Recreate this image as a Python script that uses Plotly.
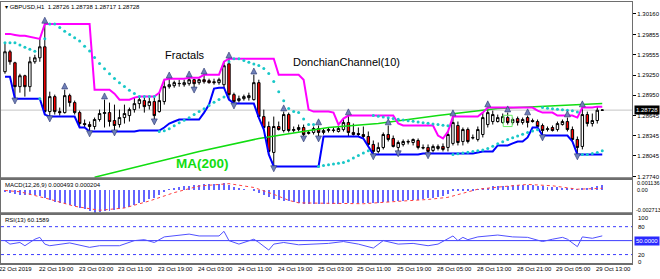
import plotly.graph_objects as go
import pandas as pd

# ---------------- data ----------------
bars = list(range(121))
open_ = [1.29300, 1.29597, 1.29433, 1.29077, 1.29240, 1.29077, 1.29448, 1.29507, 1.29671, 1.28706,
         1.28929, 1.28706, 1.28691, 1.28944, 1.28840, 1.28691, 1.28528, 1.28513, 1.28484, 1.28588,
         1.28677, 1.28691, 1.28573, 1.28513, 1.28617, 1.28647, 1.28736, 1.28825, 1.28870, 1.28795,
         1.28855, 1.28706, 1.28855, 1.29077, 1.29092, 1.29122, 1.29107, 1.29122, 1.29181, 1.29137,
         1.29181, 1.29166, 1.29151, 1.29137, 1.29107, 1.29418, 1.28959, 1.28870, 1.28899, 1.28914,
         1.28884, 1.29137, 1.28632, 1.28484, 1.28098, 1.28484, 1.28424, 1.28662, 1.28424, 1.28439,
         1.28469, 1.28380, 1.28395, 1.28454, 1.28395, 1.28424, 1.28424, 1.28410, 1.28439, 1.28543,
         1.28395, 1.28380, 1.28365, 1.28335, 1.28217, 1.28113, 1.28172, 1.28365, 1.28306, 1.28172,
         1.28217, 1.28261, 1.28246, 1.28276, 1.28172, 1.28172, 1.28128, 1.28157, 1.28187, 1.28172,
         1.28232, 1.28499, 1.28261, 1.28439, 1.28321, 1.28291, 1.28365, 1.28513, 1.28558, 1.28558,
         1.28543, 1.28617, 1.28543, 1.28602, 1.28543, 1.28617, 1.28573, 1.28558, 1.28499, 1.28439,
         1.28469, 1.28439, 1.28513, 1.28558, 1.28439, 1.28291, 1.28187, 1.28662, 1.28528, 1.28573,
         1.28726]
high = [1.29730, 1.29626, 1.29448, 1.29270, 1.29255, 1.29522, 1.29552, 1.29789, 1.30012, 1.29003,
        1.28959, 1.28766, 1.29033, 1.28973, 1.28870, 1.28721, 1.28588, 1.28558, 1.28617, 1.28736,
        1.28884, 1.28840, 1.28810, 1.28736, 1.28810, 1.28766, 1.28914, 1.28929, 1.28929, 1.28914,
        1.28929, 1.28988, 1.29181, 1.29196, 1.29166, 1.29181, 1.29181, 1.29211, 1.29196, 1.29196,
        1.29255, 1.29196, 1.29196, 1.29211, 1.29448, 1.29493, 1.28988, 1.28944, 1.28959, 1.28988,
        1.29255, 1.29181, 1.28736, 1.28558, 1.28632, 1.28558, 1.28706, 1.28691, 1.28484, 1.28513,
        1.28513, 1.28424, 1.28484, 1.28499, 1.28454, 1.28469, 1.28469, 1.28484, 1.28602, 1.28647,
        1.28528, 1.28469, 1.28484, 1.28410, 1.28276, 1.28246, 1.28395, 1.28499, 1.28350, 1.28276,
        1.28291, 1.28291, 1.28306, 1.28306, 1.28217, 1.28217, 1.28217, 1.28217, 1.28232, 1.28410,
        1.28632, 1.28558, 1.28469, 1.28469, 1.28365, 1.28484, 1.28691, 1.28766, 1.28721, 1.28662,
        1.28677, 1.28691, 1.28617, 1.28632, 1.28617, 1.28647, 1.28602, 1.28588, 1.28528, 1.28484,
        1.28499, 1.28558, 1.28588, 1.28617, 1.28484, 1.28335, 1.28766, 1.28706, 1.28677, 1.28780,
        1.28738]
low = [1.29270, 1.29404, 1.28899, 1.28988, 1.28929, 1.29003, 1.29418, 1.29448, 1.28662, 1.28632,
       1.28662, 1.28647, 1.28677, 1.28780, 1.28662, 1.28469, 1.28469, 1.28410, 1.28439, 1.28558,
       1.28469, 1.28484, 1.28424, 1.28469, 1.28528, 1.28558, 1.28691, 1.28751, 1.28691, 1.28736,
       1.28588, 1.28691, 1.28810, 1.29048, 1.29062, 1.29077, 1.29077, 1.29092, 1.29062, 1.29107,
       1.29122, 1.29122, 1.29107, 1.29107, 1.29062, 1.28884, 1.28825, 1.28840, 1.28870, 1.28870,
       1.28870, 1.28617, 1.28439, 1.28068, 1.27890, 1.28424, 1.28395, 1.28395, 1.28395, 1.28410,
       1.28335, 1.28365, 1.28365, 1.28335, 1.28365, 1.28395, 1.28395, 1.28395, 1.28410, 1.28335,
       1.28350, 1.28335, 1.28306, 1.28187, 1.28068, 1.28083, 1.28143, 1.28261, 1.28172, 1.28113,
       1.28187, 1.28217, 1.28202, 1.28143, 1.28143, 1.28083, 1.28098, 1.28128, 1.28113, 1.28113,
       1.28202, 1.28202, 1.28202, 1.28232, 1.28291, 1.28261, 1.28321, 1.28469, 1.28513, 1.28543,
       1.28528, 1.28513, 1.28513, 1.28499, 1.28513, 1.28469, 1.28543, 1.28469, 1.28350, 1.28410,
       1.28410, 1.28410, 1.28499, 1.28410, 1.28261, 1.28068, 1.28143, 1.28484, 1.28484, 1.28528,
       1.28717]
close = [1.29597, 1.29448, 1.29077, 1.29240, 1.29077, 1.29448, 1.29507, 1.29671, 1.28706, 1.28929,
         1.28706, 1.28691, 1.28944, 1.28840, 1.28691, 1.28528, 1.28513, 1.28484, 1.28588, 1.28677,
         1.28691, 1.28558, 1.28499, 1.28617, 1.28677, 1.28736, 1.28825, 1.28884, 1.28780, 1.28855,
         1.28647, 1.28870, 1.29077, 1.29107, 1.29137, 1.29125, 1.29137, 1.29181, 1.29122, 1.29181,
         1.29151, 1.29137, 1.29137, 1.29181, 1.29389, 1.28959, 1.28855, 1.28899, 1.28929, 1.28944,
         1.29137, 1.28632, 1.28469, 1.28113, 1.28484, 1.28439, 1.28662, 1.28424, 1.28439, 1.28469,
         1.28365, 1.28395, 1.28454, 1.28395, 1.28424, 1.28439, 1.28430, 1.28454, 1.28543, 1.28395,
         1.28365, 1.28365, 1.28335, 1.28217, 1.28113, 1.28172, 1.28365, 1.28291, 1.28187, 1.28246,
         1.28261, 1.28255, 1.28291, 1.28172, 1.28165, 1.28113, 1.28187, 1.28187, 1.28143, 1.28365,
         1.28543, 1.28246, 1.28439, 1.28261, 1.28315, 1.28439, 1.28617, 1.28691, 1.28662, 1.28617,
         1.28632, 1.28543, 1.28588, 1.28543, 1.28588, 1.28543, 1.28558, 1.28484, 1.28424, 1.28450,
         1.28424, 1.28528, 1.28558, 1.28439, 1.28291, 1.28172, 1.28662, 1.28528, 1.28573, 1.28726,
         1.28728]

# Donchian values read at the very left edge (history before the window)
upper_lead = [1.29863, 1.29863, 1.29848, 1.29834, 1.29834, 1.29819, 1.29804]
lower_lead = [1.29226, 1.29226]

# MA(200)
ma_bar = [18, 29, 39, 51, 65, 75, 87, 99, 111, 120]
ma_val = [1.27727, 1.27934, 1.28113, 1.28305, 1.28469, 1.28528, 1.28647, 1.28751, 1.28795, 1.28825]

# MACD(12,26,9): histogram (main) and signal
macd_main = [-0.00030, -0.00040, -0.00050, -0.00058, -0.00060, -0.00062, -0.00066, -0.00072, -0.00100, -0.00125,
             -0.00145, -0.00160, -0.00168, -0.00180, -0.00192, -0.00210, -0.00228, -0.00248, -0.00271, -0.00262,
             -0.00255, -0.00248, -0.00240, -0.00230, -0.00218, -0.00200, -0.00180, -0.00160, -0.00140, -0.00112,
             -0.00092, -0.00065, -0.00025, 0.00008, 0.00020, 0.00032, 0.00040, 0.00048, 0.00055, 0.00060,
             0.00064, 0.00068, 0.00070, 0.00068, 0.00075, 0.00055, 0.00035, 0.00018, 0.00008, 0.00000,
             -0.00018, -0.00040, -0.00062, -0.00090, -0.00108, -0.00120, -0.00128, -0.00138, -0.00148, -0.00156,
             -0.00162, -0.00168, -0.00170, -0.00172, -0.00172, -0.00170, -0.00168, -0.00165, -0.00160, -0.00160,
             -0.00158, -0.00155, -0.00155, -0.00158, -0.00160, -0.00155, -0.00145, -0.00140, -0.00135, -0.00132,
             -0.00128, -0.00125, -0.00120, -0.00115, -0.00108, -0.00100, -0.00092, -0.00082, -0.00072, -0.00045,
             -0.00020, -0.00015, -0.00010, -0.00010, -0.00008, 0.00002, 0.00012, 0.00022, 0.00038, 0.00042,
             0.00045, 0.00048, 0.00050, 0.00054, 0.00055, 0.00052, 0.00050, 0.00046, 0.00040, 0.00036,
             0.00030, 0.00026, 0.00022, 0.00020, 0.00012, 0.00005, 0.00018, 0.00025, 0.00032, 0.00042,
             0.000493]
sig_bar = [0, 3, 9, 14, 19, 24, 29, 34, 39, 45, 50, 54, 57, 59, 65, 72, 79, 85, 89, 95, 100, 105, 110, 115, 120]
sig_val = [-0.00005, -0.00020, -0.00108, -0.00190, -0.00237, -0.00210, -0.00128, -0.00030, 0.00047, 0.00075,
           0.00030, -0.00050, -0.00120, -0.00150, -0.00155, -0.00160, -0.00132, -0.00110, -0.00085, 0.00010,
           0.00040, 0.00066, 0.00050, 0.00010, 0.000204]

# RSI(13)
rsi_bar = [0, 1, 3, 4, 6, 7, 8, 9, 13, 17, 19, 23, 26, 28, 30, 32, 37, 39, 43, 44, 45, 47, 50, 51, 53, 54,
           56, 59, 65, 68, 71, 74, 76, 79, 82, 85, 87, 90, 91, 92, 93, 95, 99, 102, 105, 108, 110, 112, 113,
           115, 116, 118, 120]
rsi_val = [50, 42.5, 46, 39, 53, 57, 42.5, 39, 45, 35.5, 39, 39, 50, 52, 46, 58, 64, 60, 60, 70, 50, 42.5,
           53, 46, 29.7, 42.5, 46, 41, 44, 48, 42.5, 34, 50, 42.5, 44, 39, 42.5, 60, 50, 57, 52, 58, 62, 58,
           57, 48, 53, 57, 53, 37, 58, 55, 60.16]
rsi_levels = [80, 50, 20]

price_ticks = [1.30160, 1.29855, 1.29555, 1.29250, 1.28950, 1.28645, 1.28345, 1.28045, 1.27740]
time_labels = ["22 Oct 2019", "22 Oct 19:00", "23 Oct 03:00", "23 Oct 11:00", "23 Oct 19:00",
               "24 Oct 03:00", "24 Oct 11:00", "24 Oct 19:00", "25 Oct 03:00", "25 Oct 11:00",
               "25 Oct 19:00", "28 Oct 05:00", "28 Oct 13:00", "28 Oct 21:00", "29 Oct 05:00",
               "29 Oct 13:00"]
time_label_bars = [-1, 7, 15, 23, 31, 39, 47, 55, 63, 71, 79, 87, 95, 103, 111, 119]
highlight_bar = 101

# ---------------- indicators derived from the OHLC ----------------
n = len(bars)
upper = list(pd.Series(high).rolling(10, min_periods=1).max())
lower = list(pd.Series(low).rolling(10, min_periods=1).min())
for i, v in enumerate(upper_lead):
    upper[i] = max(upper[i], v)
for i, v in enumerate(lower_lead):
    lower[i] = min(lower[i], v)


def psar(h, l, step=0.02, amax=0.2):
    out = [h[0]]
    up = False
    af = step
    ep = l[0]
    for i in range(1, len(h)):
        s = out[-1] + af * (ep - out[-1])
        if up:
            s = min(s, l[i - 1], l[max(i - 2, 0)])
            if l[i] < s:
                up, s, ep, af = False, ep, l[i], step
            elif h[i] > ep:
                ep = h[i]
                af = min(af + step, amax)
        else:
            s = max(s, h[i - 1], h[max(i - 2, 0)])
            if h[i] > s:
                up, s, ep, af = True, ep, h[i], step
            elif l[i] < ep:
                ep = l[i]
                af = min(af + step, amax)
        out.append(s)
    return out


sar = psar(high, low)
fu_x, fu_y, fd_x, fd_y = [], [], [], []
for i in range(2, n - 2):
    if high[i] > max(high[i - 2], high[i - 1], high[i + 1], high[i + 2]):
        fu_x.append(bars[i]); fu_y.append(high[i] + 0.00100)
    if low[i] < min(low[i - 2], low[i - 1], low[i + 1], low[i + 2]):
        fd_x.append(bars[i]); fd_y.append(low[i] - 0.00080)

# ---------------- layout constants ----------------
W, H = 660, 279
XR = [-0.8, 126.0]
XDOM = [0.0, 634 / W]
MAIN_DOM = [1 - 179 / H, 1 - 2 / H]
MACD_DOM = [1 - 214 / H, 1 - 181 / H]
RSI_DOM = [1 - 265 / H, 1 - 216 / H]
PRICE_RANGE = [1.27712, 1.30338]
MACD_RANGE = [-0.002713, 0.001136]
RSI_RANGE = [-0.4, 104.6]
FONT = "Arial, Liberation Sans, sans-serif"
FRAME = "#6e6e6e"


def xpaper(k):
    return XDOM[0] + (k - XR[0]) / (XR[1] - XR[0]) * (XDOM[1] - XDOM[0])


fig = go.Figure()
fig.add_trace(go.Candlestick(
    x=bars, open=open_, high=high, low=low, close=close,
    increasing=dict(line=dict(color="black", width=1), fillcolor="white"),
    decreasing=dict(line=dict(color="black", width=1), fillcolor="#ff0000"),
    whiskerwidth=0, xaxis="x", yaxis="y", hoverinfo="skip"))
fig.add_trace(go.Scatter(x=ma_bar, y=ma_val, mode="lines",
                         line=dict(color="#11dd11", width=1.5), xaxis="x", yaxis="y"))
fig.add_trace(go.Scatter(x=bars, y=upper, mode="lines",
                         line=dict(color="#ff00ff", width=2), xaxis="x", yaxis="y"))
fig.add_trace(go.Scatter(x=bars, y=lower, mode="lines",
                         line=dict(color="#0000ff", width=2), xaxis="x", yaxis="y"))
fig.add_trace(go.Scatter(x=bars, y=sar, mode="markers",
                         marker=dict(color="#19c8c8", size=3), xaxis="x", yaxis="y"))
fig.add_trace(go.Scatter(x=fu_x, y=fu_y, mode="markers",
                         marker=dict(symbol="arrow-up", color="#7080b8", size=6,
                                     line=dict(width=0.6, color="#2a3670")), xaxis="x", yaxis="y"))
fig.add_trace(go.Scatter(x=fd_x, y=fd_y, mode="markers",
                         marker=dict(symbol="arrow-down", color="#7080b8", size=6,
                                     line=dict(width=0.6, color="#2a3670")), xaxis="x", yaxis="y"))
# MACD
fig.add_trace(go.Bar(x=bars, y=macd_main, width=0.2, marker=dict(color="#6464ff", line=dict(width=0)),
                     xaxis="x2", yaxis="y2"))
fig.add_trace(go.Scatter(x=sig_bar, y=sig_val, mode="lines",
                         line=dict(color="#ff4040", width=1, dash="dot"), xaxis="x2", yaxis="y2"))
# RSI
fig.add_trace(go.Scatter(x=rsi_bar, y=rsi_val, mode="lines",
                         line=dict(color="#5050ff", width=1), xaxis="x3", yaxis="y3"))

shapes = []
# bid line
shapes.append(dict(type="line", xref="paper", yref="y", x0=XDOM[0], x1=XDOM[1],
                   y0=close[-1], y1=close[-1], line=dict(color="#c4c4c4", width=1), layer="below"))
# RSI levels
for lv in rsi_levels:
    shapes.append(dict(type="line", xref="paper", yref="y3", x0=XDOM[0], x1=XDOM[1], y0=lv, y1=lv,
                       line=dict(color="#3c3cff", width=1, dash="solid" if lv == 50 else "dot"),
                       layer="below"))
# highlighted candle box
shapes.append(dict(type="rect", xref="x", yref="y", x0=highlight_bar - 0.9, x1=highlight_bar + 0.9,
                   y0=low[highlight_bar] - 0.0003, y1=high[highlight_bar] - 0.0004,
                   line=dict(color="#66ee66", width=1)))
# thicker panel separators
for yb in [MAIN_DOM[0], MACD_DOM[0], RSI_DOM[0]]:
    shapes.append(dict(type="line", xref="paper", yref="paper", x0=0, x1=XDOM[1], y0=yb, y1=yb,
                       line=dict(color=FRAME, width=2)))

ann = []
small = dict(family=FONT, size=6, color="black")
ann.append(dict(xref="paper", yref="paper", x=2 / W, y=1 - 7 / H, xanchor="left", yanchor="middle",
                text="\u25be GBPUSD,H1  1.28726 1.28738 1.28717 1.28728", showarrow=False, font=small))
ann.append(dict(xref="paper", yref="paper", x=163 / W, y=1 - 55 / H, xanchor="left", yanchor="middle",
                text="Fractals", showarrow=False, font=dict(family=FONT, size=11, color="black")))
ann.append(dict(xref="paper", yref="paper", x=291 / W, y=1 - 62 / H, xanchor="left", yanchor="middle",
                text="DonchianChannel(10)", showarrow=False, font=dict(family=FONT, size=11, color="black")))
ann.append(dict(xref="paper", yref="paper", x=174 / W, y=1 - 164 / H, xanchor="left", yanchor="middle",
                text="<b>MA(200)</b>", showarrow=False, font=dict(family=FONT, size=13.5, color="#11dd11")))
ann.append(dict(xref="paper", yref="paper", x=2 / W, y=1 - 186 / H, xanchor="left", yanchor="middle",
                text="MACD(12,26,9) 0.000493 0.000204", showarrow=False, font=small))
ann.append(dict(xref="paper", yref="paper", x=2 / W, y=1 - 221 / H, xanchor="left", yanchor="middle",
                text="RSI(13) 60.1589", showarrow=False, font=small))
# price box
ann.append(dict(xref="paper", yref="y", x=636 / W, y=close[-1], xanchor="left", yanchor="middle",
                text="%.5f" % close[-1], showarrow=False, bgcolor="black", borderpad=1,
                font=dict(family=FONT, size=6, color="white")))
# MACD scale labels
ann.append(dict(xref="paper", yref="y2", x=637 / W, y=MACD_RANGE[1], yshift=-3, xanchor="left",
                yanchor="middle", text="0.001136", showarrow=False, font=dict(family=FONT, size=5.5)))
ann.append(dict(xref="paper", yref="y2", x=637 / W, y=0, xanchor="left",
                yanchor="middle", text="0.00", showarrow=False, font=dict(family=FONT, size=5.5)))
ann.append(dict(xref="paper", yref="y2", x=636 / W, y=MACD_RANGE[0], yshift=3, xanchor="left",
                yanchor="middle", text="-0.002713", showarrow=False, font=dict(family=FONT, size=5.5)))
# RSI scale labels
for v, txt, ys in [(100, "100", -1), (80, "80", 0), (20, "20", 0), (0, "0", 2)]:
    ann.append(dict(xref="paper", yref="y3", x=638 / W, y=v, yshift=ys, xanchor="left",
                    yanchor="middle", text=txt, showarrow=False, font=small))
ann.append(dict(xref="paper", yref="y3", x=636 / W, y=50, xanchor="left", yanchor="middle",
                text="50.0000", showarrow=False, bgcolor="#2a2aff", borderpad=1,
                font=dict(family=FONT, size=6, color="white")))
# time labels
for k, t in zip(time_label_bars, time_labels):
    ann.append(dict(xref="paper", yref="paper", x=xpaper(k), xshift=-3, y=1 - 270 / H,
                    xanchor="left", yanchor="middle", text=t, showarrow=False, font=small))

ax_common = dict(range=XR, domain=XDOM, showticklabels=False, showgrid=False, zeroline=False,
                 showline=True, mirror=True, linecolor=FRAME, linewidth=1, ticks="",
                 fixedrange=True)
fig.update_layout(
    width=W, height=H, autosize=False, margin=dict(l=0, r=0, t=0, b=0),
    paper_bgcolor="white", plot_bgcolor="white", showlegend=False,
    font=dict(family=FONT, size=6, color="black"),
    bargap=0,
    xaxis=dict(anchor="y", rangeslider=dict(visible=False), **ax_common),
    xaxis2=dict(anchor="y2", **ax_common),
    xaxis3=dict(anchor="y3", **ax_common),
    yaxis=dict(domain=MAIN_DOM, range=PRICE_RANGE, side="right", anchor="x",
               tickvals=price_ticks, ticktext=["%.5f" % v for v in price_ticks],
               ticks="outside", ticklen=3, tickcolor="black", tickfont=small,
               showgrid=False, zeroline=False, showline=True, mirror=True,
               linecolor=FRAME, linewidth=1, fixedrange=True),
    yaxis2=dict(domain=MACD_DOM, range=MACD_RANGE, side="right", anchor="x2",
                showticklabels=False, ticks="", showgrid=False, zeroline=False,
                showline=True, mirror=True, linecolor=FRAME, linewidth=1, fixedrange=True),
    yaxis3=dict(domain=RSI_DOM, range=RSI_RANGE, side="right", anchor="x3",
                showticklabels=False, ticks="", showgrid=False, zeroline=False,
                showline=True, mirror=True, linecolor=FRAME, linewidth=1, fixedrange=True),
    shapes=shapes, annotations=ann,
)
fig.write_html("out.html", config={"displayModeBar": False})
